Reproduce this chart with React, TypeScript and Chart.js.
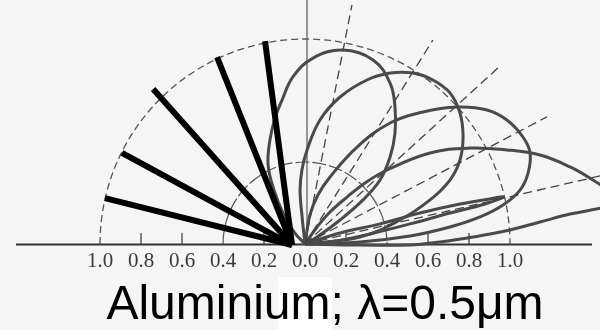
import { useEffect, useRef } from 'react';
import { Chart, registerables } from 'chart.js';

Chart.register(...registerables);

// Axis ticks (signed positions, labelled by magnitude)
const tickValues = [-1, -0.8, -0.6, -0.4, -0.2, 0, 0.2, 0.4, 0.6, 0.8, 1];
const tickMarks = [-0.8, -0.6, -0.2, 0.2, 0.6, 0.8];
const guideRadii = [0.4, 1.0];
const axisSpan = [-1.41, 1.4];

// Incident beams (thick black rays), common start and end points
const incidentStart = [-0.063, -0.005];
const incidentEnds = [
  [-0.195, 0.99],
  [-0.429, 0.912],
  [-0.741, 0.756],
  [-0.893, 0.444],
  [-0.976, 0.224],
];

// Specular directions (dashed rays from the origin)
const specularEnds = [
  [0.229, 1.166],
  [0.624, 0.995],
  [0.946, 0.863],
  [1.18, 0.62],
  [1.439, 0.332],
];

// Reflection lobes, traced as closed loops through the origin
const lobe1 = [
  [0, 0], [-0.054, 0.059], [-0.107, 0.151], [-0.151, 0.263], [-0.18, 0.385],
  [-0.171, 0.507], [-0.146, 0.615], [-0.112, 0.702], [-0.059, 0.815], [0.039, 0.907],
  [0.185, 0.946], [0.332, 0.898], [0.415, 0.785], [0.439, 0.668], [0.439, 0.541],
  [0.415, 0.424], [0.366, 0.312], [0.283, 0.215], [0.171, 0.117], [0.059, 0.034], [0, 0],
];
const lobe2 = [
  [0, 0], [-0.015, 0.141], [-0.024, 0.263], [-0.015, 0.361], [0.01, 0.459],
  [0.073, 0.605], [0.171, 0.717], [0.302, 0.8], [0.415, 0.834], [0.527, 0.834],
  [0.624, 0.8], [0.707, 0.737], [0.756, 0.639], [0.771, 0.522], [0.756, 0.41],
  [0.707, 0.312], [0.61, 0.215], [0.463, 0.117], [0.268, 0.034], [0, 0],
];
const lobe3 = [
  [0, 0], [0.024, 0.141], [0.063, 0.239], [0.122, 0.327], [0.254, 0.473],
  [0.415, 0.59], [0.576, 0.644], [0.741, 0.668], [0.888, 0.654], [0.985, 0.605],
  [1.063, 0.522], [1.098, 0.444], [1.088, 0.346], [1.049, 0.263], [0.966, 0.19],
  [0.854, 0.132], [0.707, 0.083], [0.512, 0.039], [0.268, 0.01], [0, 0],
];
const lobe4 = [
  [0, 0], [0.059, 0.083], [0.122, 0.156], [0.205, 0.229], [0.293, 0.298],
  [0.4, 0.361], [0.61, 0.444], [0.805, 0.468], [0.985, 0.459], [1.146, 0.434],
  [1.293, 0.376], [1.405, 0.312], [1.498, 0.249], [1.546, 0.21], [1.463, 0.18],
  [1.293, 0.146], [1.146, 0.107], [0.976, 0.063], [0.82, 0.034], [0.659, 0.01],
  [0.512, -0.005], [0.268, -0.005], [0, 0],
];
const lobe5 = [
  [0, 0], [0.171, 0.054], [0.366, 0.098], [0.561, 0.151], [0.756, 0.195],
  [0.902, 0.22], [0.966, 0.229], [0.878, 0.195], [0.707, 0.151], [0.512, 0.098],
  [0.317, 0.049], [0.122, 0.01], [0, 0],
];
const lobes = [lobe1, lobe2, lobe3, lobe4, lobe5];

const titleText = 'Aluminium; λ=0.5μm';

// Canvas layout
const W = 600;
const H = 330;
const ORIGIN_X = 305;
const ORIGIN_Y = 244;
const UNIT = 205;
const PAD_LEFT = 50;
const TITLE_SIZE = 48;
const TITLE_PAD_BOTTOM = 0;
const AREA_BOTTOM = H - TITLE_SIZE - TITLE_PAD_BOTTOM;

const toPts = (arr: number[][]) => arr.map(([x, y]) => ({ x, y }));

const guidesPlugin = {
  id: 'polarGuides',
  beforeDraw(chart: any) {
    const ctx = chart.ctx;
    ctx.save();
    ctx.fillStyle = '#f5f5f5';
    ctx.fillRect(0, 0, chart.width, chart.height);
    ctx.fillStyle = '#ffffff';
    ctx.fillRect(278, 277, 54, 53);
    ctx.restore();
  },
  beforeDatasetsDraw(chart: any) {
    const ctx = chart.ctx;
    const xs = chart.scales.x;
    const ys = chart.scales.y;
    const ox = xs.getPixelForValue(0);
    const oy = ys.getPixelForValue(0);
    const unit = xs.getPixelForValue(1) - ox;
    ctx.save();

    // guide semicircles
    ctx.strokeStyle = '#555';
    guideRadii.forEach((r, i) => {
      ctx.beginPath();
      ctx.lineWidth = i === 0 ? 1.2 : 1.3;
      ctx.setLineDash(i === 0 ? [14, 3] : [7, 4]);
      ctx.arc(ox, oy, r * unit, Math.PI, 2 * Math.PI);
      ctx.stroke();
    });
    ctx.setLineDash([]);

    // vertical normal
    ctx.strokeStyle = '#555';
    ctx.lineWidth = 1.2;
    ctx.beginPath();
    ctx.moveTo(ox + 2, oy);
    ctx.lineTo(ox + 2, 0);
    ctx.stroke();

    // horizontal axis
    ctx.strokeStyle = '#333';
    ctx.lineWidth = 2;
    ctx.beginPath();
    ctx.moveTo(xs.getPixelForValue(axisSpan[0]), oy + 0.5);
    ctx.lineTo(xs.getPixelForValue(axisSpan[1]), oy + 0.5);
    ctx.stroke();

    // tick marks pointing up
    ctx.lineWidth = 1.3;
    ctx.strokeStyle = '#444';
    tickMarks.forEach((v) => {
      const px = xs.getPixelForValue(v);
      ctx.beginPath();
      ctx.moveTo(px, oy);
      ctx.lineTo(px, oy - 11);
      ctx.stroke();
    });
    ctx.restore();
  },
};

export default function App() {
  const canvasRef = useRef<HTMLCanvasElement | null>(null);

  useEffect(() => {
    const canvas = canvasRef.current;
    if (!canvas) return;

    const rayData = incidentEnds.map((end) => ({
      data: toPts([incidentStart, end]),
      showLine: true,
      borderColor: '#000',
      borderWidth: 6,
      borderCapStyle: 'butt' as const,
      pointRadius: 0,
      clip: false as const,
    }));
    const specData = specularEnds.map((end) => ({
      data: toPts([[0, 0], end]),
      showLine: true,
      borderColor: '#444',
      borderWidth: 1.3,
      borderDash: [9, 5],
      pointRadius: 0,
      clip: false as const,
    }));
    const lobeData = lobes.map((lobe) => ({
      data: toPts(lobe),
      showLine: true,
      borderColor: '#4a4a4a',
      borderWidth: 3,
      tension: 0.4,
      pointRadius: 0,
      clip: false as const,
    }));

    const chart = new Chart(canvas, {
      type: 'scatter',
      data: { datasets: [...rayData, ...specData, ...lobeData] as any },
      options: {
        responsive: false,
        animation: false,
        devicePixelRatio: 1,
        layout: { padding: { left: PAD_LEFT, right: 0, top: 0, bottom: 0 } },
        elements: { line: { capBezierPoints: false } },
        plugins: {
          legend: { display: false },
          tooltip: { enabled: false },
          title: {
            display: true,
            text: titleText,
            position: 'bottom',
            color: '#000',
            font: { family: '"Liberation Sans", Arial, sans-serif', size: TITLE_SIZE, weight: 'normal', lineHeight: 1 },
            padding: { top: 0, bottom: TITLE_PAD_BOTTOM },
          },
        },
        scales: {
          x: {
            type: 'linear',
            position: { y: 0 } as any,
            min: (PAD_LEFT - ORIGIN_X) / UNIT,
            max: (W - ORIGIN_X) / UNIT,
            afterBuildTicks: (scale: any) => {
              scale.ticks = tickValues.map((value) => ({ value }));
            },
            ticks: {
              autoSkip: false,
              maxRotation: 0,
              padding: 5,
              color: '#3a3a3a',
              font: { family: '"Liberation Serif", "Times New Roman", serif', size: 21 },
              callback: (v: any) => Math.abs(Number(v)).toFixed(1),
            },
            grid: { display: false, drawTicks: false },
            border: { display: false },
          },
          y: {
            type: 'linear',
            display: false,
            min: -(AREA_BOTTOM - ORIGIN_Y) / UNIT,
            max: ORIGIN_Y / UNIT,
          },
        },
      },
      plugins: [guidesPlugin],
    });

    return () => chart.destroy();
  }, []);

  return (
    <div style={{ position: 'fixed', left: 0, top: 0, width: W, height: H }}>
      <canvas ref={canvasRef} width={W} height={H} style={{ width: W, height: H, display: 'block' }} />
    </div>
  );
}
